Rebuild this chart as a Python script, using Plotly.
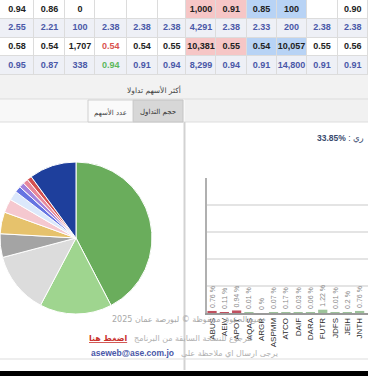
import plotly.graph_objects as go

W, H = 368, 376


def px(x):
    return x / W


def py(y):
    return 1 - y / H


# ---------------- data ----------------
table_row1 = ["0.94", "0.86", "0", "", "", "", "1,000", "0.91", "0.85", "100", "", "0.90"]
table_row2 = ["2.55", "2.21", "100", "2.38", "2.38", "2.38", "4,291", "2.38", "2.33", "200", "2.38", "2.38"]
table_row3 = ["0.58", "0.54", "1,707", "0.54", "0.54", "0.55", "10,381", "0.55", "0.54", "10,057", "0.55", "0.56"]
table_row4 = ["0.95", "0.87", "338", "0.94", "0.91", "0.94", "8,299", "0.94", "0.91", "14,800", "0.91", "0.91"]

pie_labels = ["1", "2", "3", "4", "5", "6", "7", "8", "9", "10", "11", "12"]
pie_values = [42.2, 15.3, 13.1, 5.0, 4.6, 2.9, 2.0, 1.3, 1.1, 1.1, 1.0, 10.0]

bar_symbols = ["ABUS", "AEIV", "APOT", "AQAS", "ARGR", "ASPMM", "ATCO",
               "DAIF", "DARA", "FUTR", "JDFS", "JEIH", "JNTH"]
bar_values = [0.76, 0.11, 0.94, 0.01, 0, 0.07, 0.17, 0.03, 0.06, 1.22, 0.01, 0.2, 0.76]
bar_direction = ["down", "down", "down", "up", "up", "up", "up",
                 "up", "up", "up", "up", "up", "up"]

# ---------------- styles ----------------
pie_colors = ["#6aad5c", "#9fd58f", "#dcdcdc", "#a4a4a4", "#e6c26c", "#f5c8cf",
              "#dce8fb", "#6674e2", "#a283dc", "#e8899a", "#d4504f", "#1e3f9c"]
up_col, down_col = "#9dc39a", "#c0505e"
bar_colors = [down_col if d == "down" else up_col for d in bar_direction]

col_edges = [0, 34, 65, 95, 126.5, 157.5, 186, 216, 246.5, 276.5, 306.5, 337.5, 368]
col_centers = [(col_edges[i] + col_edges[i + 1]) / 2 for i in range(12)]

rows = [table_row1, table_row2, table_row3, table_row4]
BLACK, BLUE, RED, GREEN = "#222222", "#4a58a8", "#d9534f", "#5cb85c"
WHITE, STRIPE, PINK, LBLUE = "#ffffff", "#eef0f6", "#f6c6c6", "#b8d3f5"

# fill codes: 0 white, 1 stripe, 2 pink, 3 light blue
fill_codes, font_cols = [], []
for r in range(4):
    codes, fonts = [], []
    for c in range(12):
        if r % 2 == 1:
            codes.append(1)
            fonts.append(BLUE)
        else:
            codes.append(2 if c in (6, 7) else 3 if c in (8, 9) else 0)
            fonts.append(BLACK)
    fill_codes.append(codes)
    font_cols.append(fonts)
font_cols[2][3] = RED
font_cols[3][3] = GREEN

txt_x, txt_y, txt_s, txt_c = [], [], [], []
for r in range(4):
    for c in range(12):
        if rows[r][c]:
            txt_x.append(col_centers[c])
            txt_y.append(r)
            txt_s.append("<b>%s</b>" % rows[r][c])
            txt_c.append(font_cols[r][c])

fig = go.Figure()

fig.add_trace(go.Heatmap(
    z=fill_codes, x=col_edges, y=[0, 1, 2, 3], zmin=0, zmax=3,
    colorscale=[[0, WHITE], [1 / 6, WHITE], [1 / 6, STRIPE], [0.5, STRIPE],
                [0.5, PINK], [5 / 6, PINK], [5 / 6, LBLUE], [1, LBLUE]],
    showscale=False, xgap=1, ygap=1, hoverinfo="skip",
    xaxis="x2", yaxis="y2",
))
fig.add_trace(go.Scatter(
    x=txt_x, y=txt_y, text=txt_s, mode="text",
    textfont=dict(family="Arial", size=9, color=txt_c),
    xaxis="x2", yaxis="y2", showlegend=False, hoverinfo="skip",
))

fig.add_trace(go.Pie(
    labels=pie_labels, values=pie_values, sort=False, direction="clockwise",
    rotation=0, textinfo="none", hoverinfo="label+percent",
    marker=dict(colors=pie_colors, line=dict(color="white", width=1)),
    domain=dict(x=[0, px(152)], y=[py(314), py(162)]),
    showlegend=False,
))

fig.add_trace(go.Bar(
    x=bar_symbols, y=bar_values, marker=dict(color=bar_colors, line=dict(width=0)),
    width=0.75, texttemplate="%{y} %", textposition="outside", textangle=-90,
    constraintext="none", cliponaxis=False,
    textfont=dict(family="Arial", size=7, color="#888888"),
    showlegend=False,
))

fig.update_layout(
    width=W, height=H, margin=dict(l=0, r=0, t=0, b=0),
    paper_bgcolor="white", plot_bgcolor="white",
    font=dict(family="Arial, DejaVu Sans", size=8, color="#444"),
    xaxis=dict(domain=[px(207), 1], range=[-0.41, 12.68], type="category",
               tickangle=-90, tickfont=dict(family="Arial", size=8, color="#2a2a2a"),
               showline=True, linecolor="#9a9a9a", linewidth=1.5, showgrid=False,
               ticks="", fixedrange=True),
    yaxis=dict(domain=[py(313), py(178)], range=[0, 50], dtick=10,
               showgrid=True, gridcolor="#e4e4e4", gridwidth=1.5,
               showticklabels=False, showline=True, linecolor="#b0b0b0",
               linewidth=1.5, zeroline=False, ticks="", fixedrange=True),
    xaxis2=dict(domain=[0, 1], range=[0, 368], visible=False, fixedrange=True),
    yaxis2=dict(domain=[py(75), 1], range=[3.5, -0.5], visible=False, fixedrange=True),
)

shapes = [
    # table grid background (shows through the cell gaps)
    dict(type="rect", xref="paper", yref="paper", x0=0, x1=1, y0=py(75), y1=1,
         fillcolor="#dcdcdc", line=dict(width=0), layer="below"),
    dict(type="rect", xref="paper", yref="paper", x0=0, x1=1, y0=py(99), y1=py(75),
         fillcolor="#f2f2f2", line=dict(width=0), layer="below"),
    dict(type="rect", xref="paper", yref="paper", x0=0, x1=px(185), y0=py(122), y1=py(99),
         fillcolor="#f8f8f8", line=dict(width=0), layer="below"),
    dict(type="rect", xref="paper", yref="paper", x0=px(185), x1=1, y0=py(122), y1=py(99),
         fillcolor="#f1f1f1", line=dict(width=0), layer="below"),
    dict(type="line", xref="paper", yref="paper", x0=0, x1=1, y0=py(99), y1=py(99),
         line=dict(color="#dddddd", width=1)),
    dict(type="line", xref="paper", yref="paper", x0=0, x1=1, y0=py(122), y1=py(122),
         line=dict(color="#dddddd", width=1)),
    # tabs
    dict(type="rect", xref="paper", yref="paper", x0=px(133), x1=px(183), y0=py(122), y1=py(100),
         fillcolor="#d7d7d7", line=dict(color="#c4c4c4", width=1)),
    dict(type="rect", xref="paper", yref="paper", x0=px(88), x1=px(133), y0=py(122), y1=py(100),
         fillcolor="#fafafa", line=dict(color="#d0d0d0", width=1)),
    # panel separator
    dict(type="line", xref="paper", yref="paper", x0=px(184.5), x1=px(184.5), y0=py(370), y1=py(122),
         line=dict(color="#d2d2d2", width=2)),
    # footer line and bottom bar
    dict(type="line", xref="paper", yref="paper", x0=0, x1=1, y0=py(359), y1=py(359),
         line=dict(color="#dddddd", width=1)),
    dict(type="rect", xref="paper", yref="paper", x0=0, x1=1, y0=0, y1=py(371),
         fillcolor="#000000", line=dict(width=0)),
]
fig.update_layout(shapes=shapes)

ann = [
    dict(text="أكثر الأسهم تداولا", x=px(183), y=py(90), xanchor="right", yanchor="middle",
         font=dict(size=7.5, color="#444", family="DejaVu Sans")),
    dict(text="حجم التداول", x=px(158), y=py(112), xanchor="center", yanchor="middle",
         font=dict(size=7, color="#333", family="DejaVu Sans")),
    dict(text="عدد الأسهم", x=px(110.5), y=py(112), xanchor="center", yanchor="middle",
         font=dict(size=7, color="#444", family="DejaVu Sans")),
    dict(text="<b>33.85%</b> : ري", x=px(366), y=py(138), xanchor="right", yanchor="middle",
         font=dict(size=8.5, color="#3a4a6e", family="Arial, DejaVu Sans")),
    dict(text="جميع الحقوق محفوظة © لبورصة عمان 2025", x=px(110), y=py(319),
         xanchor="left", yanchor="middle",
         font=dict(size=8, color="#a8a8a8", family="DejaVu Sans")),
    dict(text="<b><u>اضغط هنا</u></b>", x=px(129), y=py(338), xanchor="right", yanchor="middle",
         font=dict(size=8, color="#c9302c", family="DejaVu Sans")),
    dict(text="للرجوع للنسخة السابقة من البرنامج", x=px(132), y=py(338),
         xanchor="left", yanchor="middle",
         font=dict(size=8, color="#b0b0b0", family="DejaVu Sans")),
    dict(text="<b>aseweb@ase.com.jo</b>", x=px(176), y=py(353), xanchor="right", yanchor="middle",
         font=dict(size=8.5, color="#4a58a8", family="Arial")),
    dict(text="يرجى ارسال اي ملاحظة على", x=px(179), y=py(353),
         xanchor="left", yanchor="middle",
         font=dict(size=8, color="#b0b0b0", family="DejaVu Sans")),
]
for a in ann:
    a.update(xref="paper", yref="paper", showarrow=False)
fig.update_layout(annotations=ann)

fig.write_html("out.html", config={"displayModeBar": False},
               post_script="document.body.style.margin='0px';")
